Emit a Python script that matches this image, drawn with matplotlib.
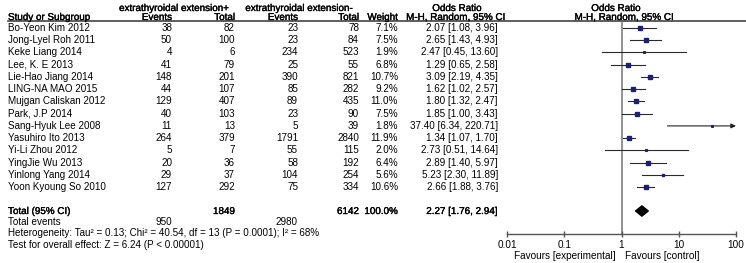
import matplotlib.pyplot as plt
from matplotlib.lines import Line2D
from matplotlib.patches import Polygon
from matplotlib.transforms import blended_transform_factory
import matplotlib.patheffects as pe
import numpy as np

plt.rcParams['font.family'] = ['Liberation Sans', 'DejaVu Sans']

studies = ["Bo-Yeon Kim 2012", "Jong-Lyel Roh 2011", "Keke Liang 2014", "Lee, K. E 2013",
           "Lie-Hao Jiang 2014", "LING-NA MAO 2015", "Mujgan Caliskan 2012", "Park, J.P 2014",
           "Sang-Hyuk Lee 2008", "Yasuhiro Ito 2013", "Yi-Li Zhou 2012", "YingJie Wu 2013",
           "Yinlong Yang 2014", "Yoon Kyoung So 2010"]
events_pos = [38, 50, 4, 41, 148, 44, 129, 40, 11, 264, 5, 20, 29, 127]
total_pos = [82, 100, 6, 79, 201, 107, 407, 103, 13, 379, 7, 36, 37, 292]
events_neg = [23, 23, 234, 25, 390, 85, 89, 23, 5, 1791, 55, 58, 104, 75]
total_neg = [78, 84, 523, 55, 821, 282, 435, 90, 39, 2840, 115, 192, 254, 334]
weight = [7.1, 7.5, 1.9, 6.8, 10.7, 9.2, 11.0, 7.5, 1.8, 11.9, 2.0, 6.4, 5.6, 10.6]
odds = [2.07, 2.65, 2.47, 1.29, 3.09, 1.62, 1.80, 1.85, 37.40, 1.34, 2.73, 2.89, 5.23, 2.66]
ci_lo = [1.08, 1.43, 0.45, 0.65, 2.19, 1.02, 1.32, 1.00, 6.34, 1.07, 0.51, 1.40, 2.30, 1.88]
ci_hi = [3.96, 4.93, 13.60, 2.58, 4.35, 2.57, 2.47, 3.43, 220.71, 1.70, 14.64, 5.97, 11.89, 3.76]

total_or, total_lo, total_hi = 2.27, 1.76, 2.94
total_n_pos, total_n_neg = 1849, 6142
total_ev_pos, total_ev_neg = 950, 2980
xticks = [0.01, 0.1, 1, 10, 100]
xticklabels = ["0.01", "0.1", "1", "10", "100"]

W, H = 746, 263
fig = plt.figure(figsize=(W / 100, H / 100), dpi=100)

# forest panel: rows are indexed from the top, 12.24 px apart, first row at y=28
row0, step = 28, 12.24
top_px, bot_px = 22, 234
ax = fig.add_axes([507 / W, 1 - bot_px / H, 229 / W, (bot_px - top_px) / H])
ax.set_xscale('log')
ax.set_xlim(0.01, 100)
ax.set_ylim((bot_px - row0) / step, (top_px - row0) / step)

def row(ypx):
    return (ypx - row0) / step

ax.axvline(1, color='#8a8a8a', lw=1.3, zorder=1)

rows = np.arange(len(studies))
xmax = ax.get_xlim()[1]
for r, o, lo, hi, w in zip(rows, odds, ci_lo, ci_hi, weight):
    if hi > xmax:
        ax.annotate("", xy=(xmax, r), xytext=(lo, r),
                    arrowprops=dict(arrowstyle='-|>', color='#222222', lw=0.8,
                                    mutation_scale=7, shrinkA=0, shrinkB=0))
    else:
        ax.plot([lo, hi], [r, r], color='#2a2a2a', lw=0.8, zorder=2)
    ax.plot(o, r, marker='s', ms=3.1 * np.sqrt(w / 11.9), color='#1c1f72',
            mec='#1c1f72', zorder=3)

ty = row(211)
ax.add_patch(Polygon([[total_lo, ty], [total_or, ty - 0.42], [total_hi, ty],
                      [total_or, ty + 0.42]], closed=True, color='black', zorder=3))

for s in ['top', 'right', 'left']:
    ax.spines[s].set_visible(False)
ax.spines['bottom'].set_color('#555555')
ax.spines['bottom'].set_linewidth(1.0)
ax.set_yticks([])
ax.set_xticks(xticks)
ax.set_xticklabels(xticklabels)
ax.minorticks_off()
ax.tick_params(axis='x', direction='inout', length=5, width=1.0, color='#555555',
               labelsize=7.2, pad=1.5)
ax.annotate("Favours [experimental]", xy=(1, 0), xycoords=('data', 'axes fraction'),
            xytext=(-4.5, -16), textcoords='offset points', ha='right', va='center',
            fontsize=7.2)
ax.annotate("Favours [control]", xy=(1, 0), xycoords=('data', 'axes fraction'),
            xytext=(2.5, -16), textcoords='offset points', ha='left', va='center',
            fontsize=7.2)

# text columns: x in figure pixels, y in row units of the forest panel
tr = blended_transform_factory(fig.transFigure, ax.transData)
fs = 7.1
heavy = [pe.withStroke(linewidth=0.25, foreground='black')]

def put(xpx, y, s, ha='right', bold=False):
    fig.text(xpx / W, y, s, transform=tr, ha=ha, va='center', fontsize=fs,
             path_effects=heavy if bold else None, clip_on=False)

h1, h2 = row(8), row(17)
put(174, h1, "extrathyroidal extension+", ha='center', bold=True)
put(299, h1, "extrathyroidal extension-", ha='center', bold=True)
put(457, h1, "Odds Ratio", ha='center', bold=True)
put(616, h1, "Odds Ratio", ha='center', bold=True)
put(8, h2, "Study or Subgroup", ha='left', bold=True)
put(172, h2, "Events", bold=True)
put(235, h2, "Total", bold=True)
put(298, h2, "Events", bold=True)
put(359, h2, "Total", bold=True)
put(398, h2, "Weight", bold=True)
put(505, h2, "M-H, Random, 95% CI", bold=True)
put(624, h2, "M-H, Random, 95% CI", ha='center', bold=True)
fig.add_artist(Line2D([8 / W, 1], [1 - 21 / H] * 2, color='#333333', lw=1.1))

for r, name, e1, n1, e2, n2, w, o, lo, hi in zip(rows, studies, events_pos, total_pos,
                                                  events_neg, total_neg, weight, odds,
                                                  ci_lo, ci_hi):
    put(8, r, name, ha='left')
    put(172, r, str(e1))
    put(235, r, str(n1))
    put(298, r, str(e2))
    put(359, r, str(n2))
    put(398, r, f"{w:.1f}%")
    put(498, r, f"{o:.2f} [{lo:.2f}, {hi:.2f}]")

put(8, ty, "Total (95% CI)", ha='left', bold=True)
put(235, ty, str(total_n_pos), bold=True)
put(359, ty, str(total_n_neg), bold=True)
put(398, ty, f"{sum(weight):.1f}%", bold=True)
put(498, ty, f"{total_or:.2f} [{total_lo:.2f}, {total_hi:.2f}]", bold=True)
put(8, row(222), "Total events", ha='left')
put(172, row(222), str(total_ev_pos))
put(298, row(222), str(total_ev_neg))
put(8, row(233.5), "Heterogeneity: Tau\u00b2 = 0.13; Chi\u00b2 = 40.54, df = 13 (P = 0.0001); I\u00b2 = 68%",
    ha='left')
put(8, row(245.5), "Test for overall effect: Z = 6.24 (P < 0.00001)", ha='left')

fig.savefig("out.png", dpi=100)
